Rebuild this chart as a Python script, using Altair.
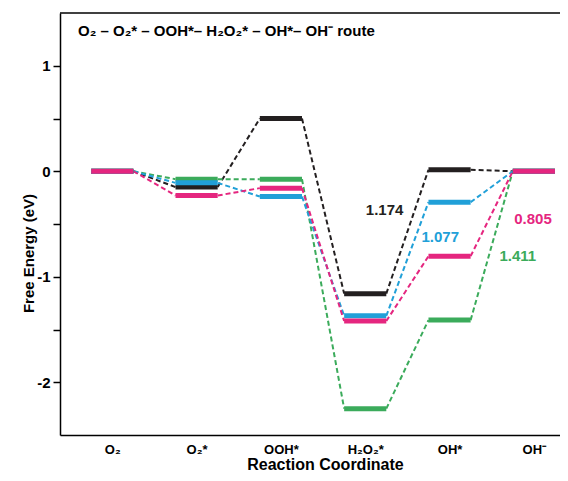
import altair as alt
import pandas as pd

states = ["O₂", "O₂*", "OOH*", "H₂O₂*", "OH*", "OH⁻"]
series_names = ["black", "green", "blue", "pink"]
energies = {
    "black": [0, -0.15, 0.50, -1.16, 0.014, 0],
    "green": [0, -0.075, -0.075, -2.25, -1.411, 0],
    "blue": [0, -0.11, -0.24, -1.37, -0.293, 0],
    "pink": [0, -0.23, -0.16, -1.42, -0.805, 0],
}
colors = ["#231f20", "#3bab5b", "#21a0d8", "#e5267f"]

ann_text = ["1.174", "1.077", "0.805", "1.411"]
ann_series = ["black", "blue", "pink", "green"]
ann_x = [3.23, 3.89, 4.99, 4.81]
ann_y = [-0.37, -0.62, -0.45, -0.80]

HW = 0.25
lev_rows, con_rows = [], []
for s in series_names:
    e = energies[s]
    for i, v in enumerate(e):
        lev_rows.append({"s": s, "x1": i - HW, "x2": i + HW, "y1": v})
        if i < len(e) - 1:
            con_rows.append({"s": s, "x1": i + HW, "x2": i + 1 - HW, "y1": v, "y2": e[i + 1]})
lev = pd.DataFrame(lev_rows)
con = pd.DataFrame(con_rows)
ann = pd.DataFrame({"t": ann_text, "s": ann_series, "x": ann_x, "y": ann_y})

FONT = "Liberation Sans"
xscale = alt.Scale(domain=[-0.62, 5.31], nice=False, zero=False)
yscale = alt.Scale(domain=[-2.5, 1.5], nice=False, zero=False)
cscale = alt.Scale(domain=series_names, range=colors)

label_expr = "[" + ",".join("'" + s + "'" for s in states) + "][round(datum.value)]"

xaxis = alt.Axis(values=list(range(len(states))), labelExpr=label_expr, ticks=False, grid=False,
                 domainColor="#000", domainWidth=1.5, labelFont=FONT, labelFontSize=13,
                 labelFontWeight="bold", labelColor="#000", labelPadding=8,
                 title="Reaction Coordinate", titleFont=FONT, titleFontSize=16, titleFontWeight="bold",
                 titleColor="#000", titleX=265, titleY=34, titleAlign="center",
                 titleBaseline="alphabetic")
yaxis = alt.Axis(values=[-2, -1.5, -1, -0.5, 0, 0.5, 1],
                 labelExpr="datum.value % 1 == 0 ? ('' + datum.value) : ''",
                 tickSize=7, tickColor="#000", tickWidth=1.5, grid=False,
                 domainColor="#000", domainWidth=1.5, labelFont=FONT, labelFontSize=15,
                 labelFontWeight="bold", labelColor="#000", labelPadding=3,
                 title="Free Energy (eV)", titleFont=FONT, titleFontSize=15, titleFontWeight="bold",
                 titleColor="#000", titleAngle=-90, titleX=-32, titleY=240,
                 titleAlign="center", titleBaseline="middle")

base_x = alt.X("x1:Q", scale=xscale, axis=xaxis)
base_y = alt.Y("y1:Q", scale=yscale, axis=yaxis)

connectors = alt.Chart(con).mark_rule(strokeWidth=2, strokeDash=[5, 3]).encode(
    x=base_x, x2="x2:Q", y=base_y, y2="y2:Q",
    color=alt.Color("s:N", scale=cscale, legend=None))

levels = alt.Chart(lev).mark_rule(strokeWidth=5).encode(
    x=base_x, x2="x2:Q", y=base_y,
    color=alt.Color("s:N", scale=cscale, legend=None))

labels = alt.Chart(ann).mark_text(font=FONT, fontSize=15, fontWeight="bold").encode(
    x=alt.X("x:Q", scale=xscale), y=alt.Y("y:Q", scale=yscale), text="t:N",
    color=alt.Color("s:N", scale=cscale, legend=None))

route = alt.Chart(pd.DataFrame({"t": ["O₂ – O₂* – OOH*– H₂O₂* – OH*– OH⁻ route"]})).mark_text(
    font=FONT, fontSize=15, fontWeight="bold", align="left", baseline="middle", color="#000"
).encode(x=alt.value(18), y=alt.value(18), text="t:N")

top = alt.Chart(pd.DataFrame({"y": [1.5]})).mark_rule(color="#000", strokeWidth=1.5).encode(
    y=alt.Y("y:Q", scale=yscale), x=alt.value(0), x2=alt.value(500))

chart = alt.layer(top, connectors, levels, labels, route).properties(
    width=500, height=422,
    autosize=alt.AutoSizeParams(type="none"),
    padding={"left": 52, "top": 5, "right": 0, "bottom": 38},
).configure_view(stroke=None)

chart.save("out.html", embed_options={"renderer": "svg", "actions": False})
